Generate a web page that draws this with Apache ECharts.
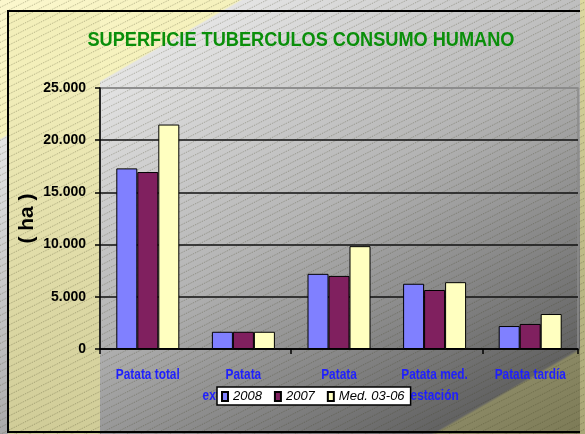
<!DOCTYPE html>
<html><head><meta charset="utf-8">
<script src="https://cdn.jsdelivr.net/npm/echarts@6/dist/echarts.min.js"></script>
<style>html,body{margin:0;padding:0;background:#fff}#c{width:585px;height:434px}</style>
</head><body><div id="c"></div>
<script>
// ---- data ----
const categories = ['Patata total', 'Patata\nextratemprana', 'Patata\ntemprana', 'Patata med.\nestación', 'Patata tardía'];
const seriesNames = ['2008', '2007', 'Med. 03-06'];
const values2008 = [17300, 1650, 7200, 6250, 2200];
const values2007 = [16950, 1650, 7000, 5650, 2400];
const valuesMed = [21500, 1650, 9850, 6400, 3350];
const yTicks = [0, 5000, 10000, 15000, 20000, 25000];
const titleText = 'SUPERFICIE TUBERCULOS CONSUMO HUMANO';
const yName = '( ha )';

const W = 585, H = 434;
const SANS = '"Liberation Sans",Arial,sans-serif';

function makeBg() {
  const c = document.createElement('canvas'); c.width = W; c.height = H;
  const g = c.getContext('2d');
  const x0 = 8, y0 = 11, nx = 0.5, ny = 0.866, L = 655;
  const gr = g.createLinearGradient(x0, y0, x0 + nx * L, y0 + ny * L);
  gr.addColorStop(0, '#fbf7cc');
  gr.addColorStop(0.162, '#f5f1bc');
  gr.addColorStop(0.165, '#e4e4e4');
  gr.addColorStop(0.5, '#b4b4b4');
  gr.addColorStop(0.882, '#626262');
  gr.addColorStop(0.886, '#8a8864');
  gr.addColorStop(1, '#7c7a56');
  g.fillStyle = gr; g.fillRect(0, 0, W, H);
  const gl = g.createLinearGradient(0, 11, 0, H);
  gl.addColorStop(0, '#f8f4c0'); gl.addColorStop(1, '#d0cc98');
  g.fillStyle = gl; g.fillRect(8, 70, 92, H - 70);
  g.fillStyle = '#f3efba'; g.fillRect(8, 11, 92, 60);
  const gr2 = g.createLinearGradient(0, 0, 0, H);
  gr2.addColorStop(0, '#dcd8a0'); gr2.addColorStop(1, '#a8a676');
  g.fillStyle = gr2; g.fillRect(580, 0, 5, H);
  g.strokeStyle = 'rgba(60,60,30,0.36)'; g.lineWidth = 1; g.setLineDash([1, 1]);
  for (let cc = 0; cc < H + 0.5 * W + 10; cc += 7) {
    g.beginPath(); g.moveTo(0, cc + 0.5); g.lineTo(W, cc - 0.5 * W + 0.5); g.stroke();
  }
  g.setLineDash([]);
  g.fillStyle = '#000';
  g.fillRect(7, 10, 2, 423);
  g.fillRect(7, 10, 573, 2);
  g.fillRect(7, 431, 573, 2);
  return c;
}

function fmt(v) { return String(v).replace(/\B(?=(\d{3})+(?!\d))/g, '.'); }

const mc = document.createElement('canvas').getContext('2d');
mc.font = 'bold 21px ' + SANS;
const tScale = 427 / mc.measureText(titleText).width;

const bgImg = makeBg();
const chart = echarts.init(document.getElementById('c'), null, {renderer: 'canvas'});
const baseGraphic = [
  {id: 'bg', type: 'image', z: -100, left: 0, top: 0, style: {image: bgImg, x: 0, y: 0, width: W, height: H}},
  {id: 'title', type: 'text', z: 10, x: 301, y: 40, scaleX: tScale, originX: 0, originY: 0,
    style: {text: titleText, fill: '#0a8f0a', font: 'bold 21px ' + SANS, textAlign: 'center', textVerticalAlign: 'middle'}}
];
chart.setOption({
  animation: false,
  backgroundColor: 'transparent',
  graphic: baseGraphic,
  grid: {left: 100, right: 7, top: 88, bottom: 85, show: true, borderColor: '#8a8a8a', borderWidth: 1.5, backgroundColor: 'transparent'},
  legend: {
    data: seriesNames, left: 217, top: 387, orient: 'horizontal',
    backgroundColor: '#fff', borderColor: '#000', borderWidth: 1.5, padding: [3, 6, 2, 4],
    itemWidth: 6, itemHeight: 9, itemGap: 12, icon: 'rect',
    textStyle: {fontFamily: SANS, fontStyle: 'italic', fontSize: 13, color: '#000', padding: [0, 0, 0, 0]}
  },
  xAxis: {
    type: 'category', data: categories,
    axisLine: {lineStyle: {color: '#000', width: 1.5}},
    axisTick: {show: true, length: 5, lineStyle: {color: '#000', width: 1.5}},
    axisLabel: {show: false}
  },
  yAxis: {
    type: 'value', min: yTicks[0], max: yTicks[yTicks.length - 1], interval: yTicks[1] - yTicks[0],
    name: yName, nameLocation: 'middle', nameGap: 62, nameRotate: 90, nameMoveOverlap: false,
    nameTextStyle: {fontFamily: SANS, fontWeight: 'bold', fontSize: 21, color: '#000'},
    axisLine: {show: true, lineStyle: {color: '#000', width: 1.5}},
    axisTick: {show: true, inside: false, length: 5, lineStyle: {color: '#000', width: 1.5}},
    axisLabel: {margin: 14, color: '#000', fontFamily: SANS, fontWeight: 'bold', fontSize: 14, formatter: fmt},
    splitLine: {show: true, lineStyle: {color: ['#000', '#111', '#111', '#111', '#111', '#8a8a8a'], width: 1.5}}
  },
  series: [
    {name: seriesNames[0], type: 'bar', data: values2008, barWidth: 21, barGap: '0%',
      itemStyle: {color: '#8080ff', borderColor: '#000', borderWidth: 1}},
    {name: seriesNames[1], type: 'bar', data: values2007, barWidth: 21, barGap: '0%',
      itemStyle: {color: '#80205f', borderColor: '#000', borderWidth: 1}},
    {name: seriesNames[2], type: 'bar', data: valuesMed, barWidth: 21, barGap: '0%',
      itemStyle: {color: '#ffffc0', borderColor: '#000', borderWidth: 1}}
  ]
});

// condensed category labels placed through the category axis scale
const labelGraphic = categories.map((cat, i) => {
  const px = chart.convertToPixel({xAxisIndex: 0}, i);
  const py = chart.convertToPixel({yAxisIndex: 0}, yTicks[0]);
  return {id: 'cat' + i, type: 'text', z: 3, x: px, y: py + 15, scaleX: 0.79, originX: 0, originY: 0,
    style: {text: cat, fill: '#1f1fff', font: 'bold 15px ' + SANS, textAlign: 'center', textVerticalAlign: 'top', lineHeight: 21}};
});
chart.setOption({graphic: baseGraphic.concat(labelGraphic)});
</script></body></html>
